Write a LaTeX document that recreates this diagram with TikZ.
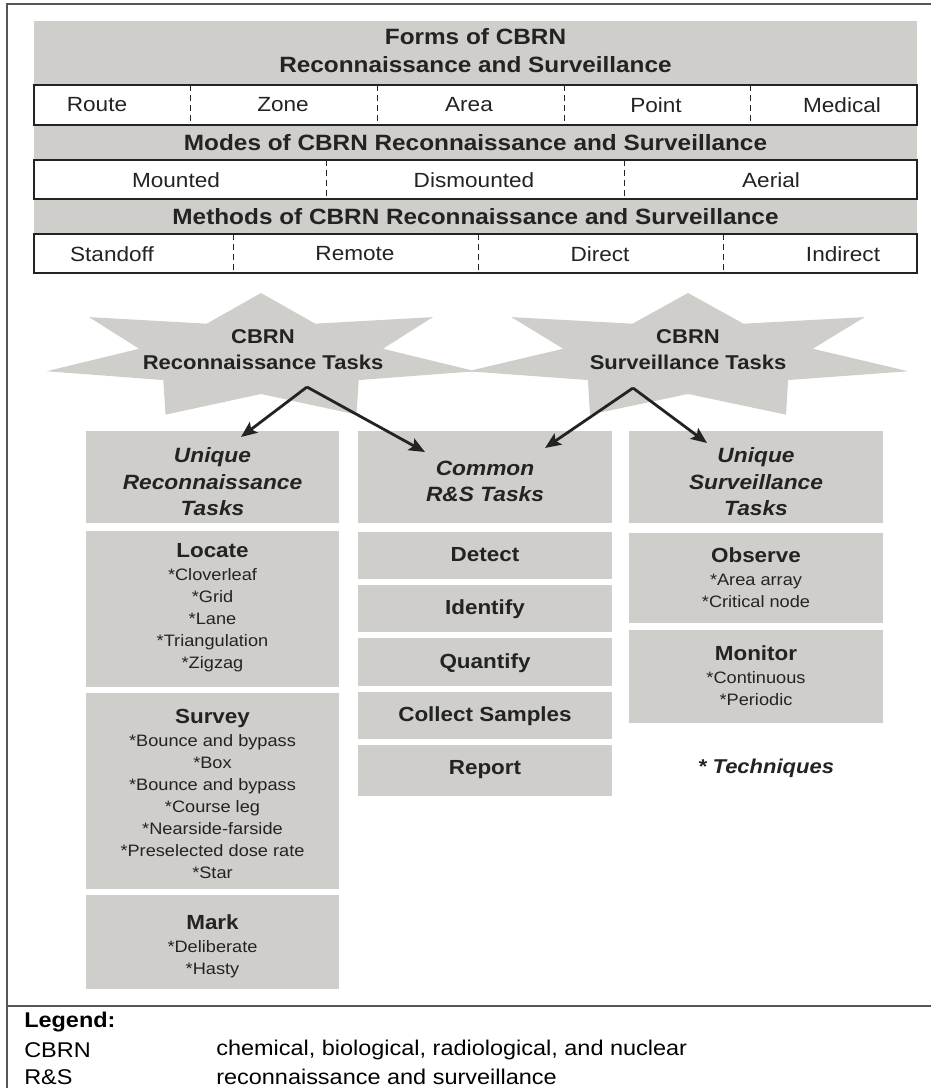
\documentclass[tikz,border=0pt]{standalone}
\usepackage{fontspec}
\setmainfont{Liberation Sans}[FakeStretch=1.1]
\usetikzlibrary{arrows.meta}

\definecolor{boxgray}{RGB}{208,206,202}
\definecolor{inkgray}{RGB}{35,35,35}
\definecolor{framegray}{RGB}{85,85,85}

\tikzset{
  bandfill/.style={fill=boxgray},
  framebox/.style={draw=framegray, line width=1.4pt},
  rowbox/.style={draw=inkgray, line width=1.1pt, fill=white},
  cellsep/.style={draw=inkgray, line width=0.6pt, dash pattern={on 4.5pt off 3pt}},
  hdrtext/.style={font=\fontsize{16.6}{21}\selectfont\bfseries, text=inkgray, align=center, inner sep=0.75pt},
  rowtext/.style={font=\fontsize{15.4}{18}\selectfont, text=inkgray, inner sep=0.75pt},
  startext/.style={font=\fontsize{15}{19.5}\selectfont\bfseries, text=inkgray, align=center, inner sep=0.75pt},
  colhead/.style={font=\fontsize{15.5}{19.9}\selectfont\bfseries\itshape, text=inkgray, align=center, inner sep=0.75pt},
  tasktext/.style={font=\fontsize{12.4}{16.5}\selectfont, text=inkgray, align=center, inner sep=0.75pt},
  tasktitle/.style={font=\fontsize{15.3}{18}\selectfont\bfseries, text=inkgray, inner sep=0.75pt},
  legendtext/.style={font=\fontsize{16}{20}\selectfont, text=black, anchor=west, inner sep=0.75pt},
  taskarrow/.style={draw=inkgray, line width=2.1pt, -{Stealth[length=12pt,width=10pt,inset=2.5pt]}},
}
\newcommand{\tasktitle}[1]{{\fontsize{15.3}{16.5}\selectfont\bfseries #1}}

\begin{document}
\begin{tikzpicture}[x=0.75pt,y=0.75pt,yscale=-1,xscale=1]
\useasboundingbox (0,0) rectangle (931,1088);
\clip (0,0) rectangle (931,1088);

%Shape: Rectangle [id:outer frame]
\draw [framebox] (7,4) rectangle (945,1100) ;
\draw [framebox] (7,1006) -- (945,1006) ;

%Shape: Rectangle [id:top band]
\fill [bandfill] (34,21) rectangle (917,273) ;
% Text Node
\draw (475.5,51) node (formshdr) [hdrtext] {Forms of CBRN\\Reconnaissance and Surveillance};

%Shape: Rectangle [id:forms row]
\draw [rowbox] (34,85) rectangle (917,125) ;
\foreach \xd in {190,377,564,750} \draw [cellsep] (\xd,85) -- (\xd,125) ;
\draw (97,105) node (route) [rowtext] {Route};
\draw (283,105) node (zone) [rowtext] {Zone};
\draw (469,105) node (area) [rowtext] {Area};
\draw (656,105) node (point) [rowtext] {Point};
\draw (842,105) node (medical) [rowtext] {Medical};

% Text Node
\draw (475.5,143) node (modeshdr) [hdrtext] {Modes of CBRN Reconnaissance and Surveillance};

%Shape: Rectangle [id:modes row]
\draw [rowbox] (34,160) rectangle (917,199) ;
\foreach \xd in {326,624} \draw [cellsep] (\xd,160) -- (\xd,199) ;
\draw (176,180) node (mounted) [rowtext] {Mounted};
\draw (474,180) node (dismounted) [rowtext] {Dismounted};
\draw (771,180) node (aerial) [rowtext] {Aerial};

% Text Node
\draw (475.5,217) node (methodshdr) [hdrtext] {Methods of CBRN Reconnaissance and Surveillance};

%Shape: Rectangle [id:methods row]
\draw [rowbox] (34,234) rectangle (917,273) ;
\foreach \xd in {233,478,723} \draw [cellsep] (\xd,234) -- (\xd,273) ;
\draw (112,254) node (standoff) [rowtext] {Standoff};
\draw (355,254) node (remote) [rowtext] {Remote};
\draw (600,254) node (direct) [rowtext] {Direct};
\draw (843,254) node (indirect) [rowtext] {Indirect};

%Shape: Star [id:recon star]
\fill [bandfill] plot [samples at={0,...,13}] ({261+ifthenelse(mod(\x,2)==0,220,125)*cos(90+\x*360/14)},{357-ifthenelse(mod(\x,2)==0,64,37)*sin(90+\x*360/14)}) -- cycle ;
%Shape: Star [id:surv star]
\fill [bandfill] plot [samples at={0,...,13}] ({688+ifthenelse(mod(\x,2)==0,226,128)*cos(90+\x*360/14)},{357-ifthenelse(mod(\x,2)==0,64,37)*sin(90+\x*360/14)}) -- cycle ;
% Text Node
\draw (263,350) node (reconstar) [startext] {CBRN\\Reconnaissance Tasks};
\draw (688,350) node (survstar) [startext] {CBRN\\Surveillance Tasks};

%Shape: Rectangle [id:column heads]
\fill [bandfill] (86,431) rectangle (339,523) ;
\fill [bandfill] (358,431) rectangle (612,523) ;
\fill [bandfill] (629,431) rectangle (883,523) ;
\draw (212.5,482) node (uniqrec) [colhead] {Unique\\Reconnaissance\\Tasks};
\draw (485,481.5) node (common) [colhead] {Common\\R\&S Tasks};
\draw (756,482) node (uniqsurv) [colhead] {Unique\\Surveillance\\Tasks};

%Shape: Rectangle [id:recon tasks]
\fill [bandfill] (86,531) rectangle (339,687) ;
\fill [bandfill] (86,693) rectangle (339,889) ;
\fill [bandfill] (86,895) rectangle (339,989) ;
\draw (212.5,608) node (locate) [tasktext] {\tasktitle{Locate}\\[0.75pt]*Cloverleaf\\*Grid\\*Lane\\*Triangulation\\*Zigzag};
\draw (212.5,794) node (survey) [tasktext] {\tasktitle{Survey}\\[0.75pt]*Bounce and bypass\\*Box\\*Bounce and bypass\\*Course leg\\*Nearside-farside\\*Preselected dose rate\\*Star};
\draw (212.5,946) node (mark) [tasktext] {\tasktitle{Mark}\\[0.75pt]*Deliberate\\*Hasty};

%Shape: Rectangle [id:common tasks]
\fill [bandfill] (358,532) rectangle (612,579) ;
\fill [bandfill] (358,585) rectangle (612,632) ;
\fill [bandfill] (358,638) rectangle (612,686) ;
\fill [bandfill] (358,692) rectangle (612,739) ;
\fill [bandfill] (358,745) rectangle (612,796) ;
\draw (485,555) node (detect) [tasktitle] {Detect};
\draw (485,609) node (identify) [tasktitle] {Identify};
\draw (485,663) node (quantify) [tasktitle] {Quantify};
\draw (485,716) node (collect) [tasktitle] {Collect Samples};
\draw (485,770) node (report) [tasktitle] {Report};

%Shape: Rectangle [id:surv tasks]
\fill [bandfill] (629,533) rectangle (883,623) ;
\fill [bandfill] (629,630) rectangle (883,723) ;
\draw (756,578) node (observe) [tasktext] {\tasktitle{Observe}\\[0.75pt]*Area array\\*Critical node};
\draw (756,676) node (monitor) [tasktext] {\tasktitle{Monitor}\\[0.75pt]*Continuous\\*Periodic};

% Text Node
\draw (766,768) node (techniques) [font=\fontsize{15}{18}\selectfont\bfseries\itshape, text=inkgray] {* Techniques};

%Arrows
\coordinate (recfork) at (307,387) ;
\coordinate (survfork) at (633,388) ;
\coordinate (uniqrecin) at (241,437) ;
\coordinate (commonin) at (425,452) ;
\coordinate (commonin2) at (545,448) ;
\coordinate (uniqsurvin) at (707,443) ;
\draw [taskarrow] (recfork) -- (uniqrecin) ;
\draw [taskarrow] (recfork) -- (commonin) ;
\draw [taskarrow] (survfork) -- (commonin2) ;
\draw [taskarrow] (survfork) -- (uniqsurvin) ;

% Legend
\draw (23,1022) node (legend) [legendtext] {\bfseries Legend:};
\draw (23,1050) node (cbrnabbr) [legendtext] {CBRN};
\draw (215,1050) node (cbrndef) [legendtext] {chemical, biological, radiological, and nuclear};
\draw (23,1077) node (rsabbr) [legendtext] {R\&S};
\draw (215,1077) node (rsdef) [legendtext] {reconnaissance and surveillance};

\end{tikzpicture}
\end{document}
